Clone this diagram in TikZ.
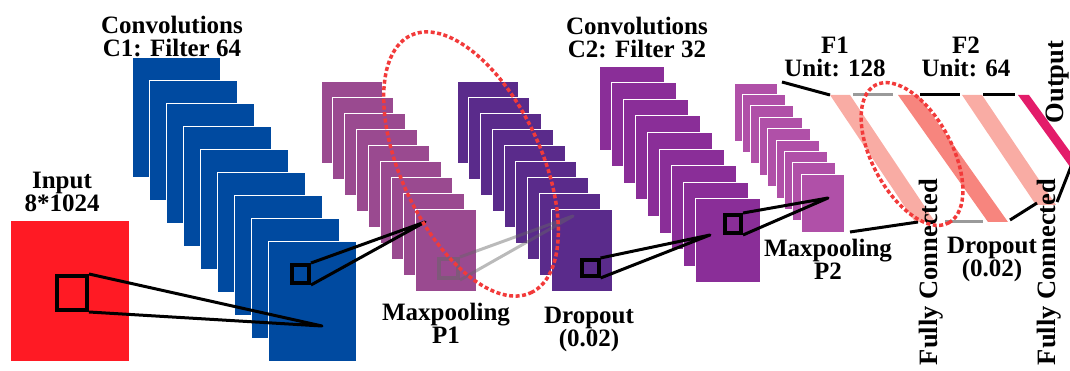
\documentclass[tikz,border=0pt]{standalone}
\usepackage{fontspec}
\setmainfont{Liberation Serif}

\definecolor{inred}{HTML}{FF1A24}
\definecolor{convblue}{HTML}{004AA0}
\definecolor{poolmauve}{HTML}{9A4A90}
\definecolor{dropviolet}{HTML}{5A2B8B}
\definecolor{convpurple}{HTML}{8A2E98}
\definecolor{poolpink}{HTML}{B050A8}
\definecolor{bandlight}{HTML}{F9ACA4}
\definecolor{banddark}{HTML}{F7857E}
\definecolor{outmag}{HTML}{E31C6A}
\definecolor{ringred}{HTML}{F23A3A}
\definecolor{wiregray}{HTML}{9A9A9A}

\newcommand*{\pw}{1070}
\newcommand*{\ph}{371}

\begin{document}
\begin{tikzpicture}
[
	x=1pt,
	y=-1pt,
	fmap/.style={draw=white,line width=0.8pt},
	winbox/.style={draw=black,line width=4pt,inner sep=0pt},
	wire/.style={black,line width=3pt,line join=round},
	lbl/.style={font=\fontsize{25}{23}\selectfont\bfseries,align=center,inner sep=0pt},
	vlbl/.style={font=\fontsize{26.5}{26}\selectfont\bfseries,rotate=90,anchor=base,inner sep=0pt},
	ring/.style={draw=ringred,line width=3.5pt,dash pattern=on 4pt off 2.5pt}
]
	\useasboundingbox (0,0) rectangle (\pw,\ph);

	% input
	\fill[inred] (11,221) rectangle (129,361);

	% feature map stacks
	\foreach \i in {0,...,8} {
		\filldraw[fmap,fill=convblue] (132+17*\i,57+23.1*\i) rectangle ++(88,120);
	}
	\foreach \i in {0,...,8} {
		\filldraw[fmap,fill=poolmauve] (321+11.8*\i,81+16*\i) rectangle ++(61,82);
	}
	\foreach \i in {0,...,8} {
		\filldraw[fmap,fill=dropviolet] (457+11.75*\i,81+16*\i) rectangle ++(61,82);
	}
	\foreach \i in {0,...,8} {
		\filldraw[fmap,fill=convpurple] (599+12*\i,66+16.6*\i) rectangle ++(65,84);
	}
	\foreach \i in {0,...,8} {
		\filldraw[fmap,fill=poolpink] (734+8.4*\i,83+11.4*\i) rectangle ++(43,58);
	}

	% windows and their projections
	\node[winbox,minimum width=30pt,minimum height=34pt] (win0) at (72,293) {};
	\node[winbox,minimum width=17pt,minimum height=18pt] (win1) at (300.5,274) {};
	\node[winbox,draw=black!60,opacity=0.5,minimum width=19pt,minimum height=19pt] (win2) at (448.5,268.5) {};
	\node[winbox,minimum width=17pt,minimum height=16pt] (win3) at (590,268) {};
	\node[winbox,minimum width=16pt,minimum height=18pt] (win4) at (733,224) {};

	\coordinate (tip0) at (322,326);
	\coordinate (tip1) at (425,222);
	\coordinate (tip2) at (573,216);
	\coordinate (tip3) at (710,235);
	\coordinate (tip4) at (828,198);

	\draw[wire] (win0.north east) -- (tip0) -- (win0.south east);
	\draw[wire] (win1.north east) -- (tip1) -- (win1.south east);
	\draw[wire,black!60,opacity=0.45] (win2.north east) -- (tip2) -- (win2.south east);
	\draw[wire] (win3.north east) -- (tip3) -- (win3.south east);
	\draw[wire] (win4.north east) -- (tip4) -- (win4.south east);

	% fully connected bands
	\fill[bandlight] (830,95) -- (850,95) -- (935,222) -- (915,222) -- cycle;
	\fill[banddark] (898,95) -- (918,95) -- (1008,222) -- (988,222) -- cycle;
	\fill[bandlight] (962,95) -- (982,95) -- (1056,205) -- (1036,205) -- cycle;
	\fill[outmag] (1018,95) -- (1029,95) -- (1087,175) -- (1076,175) -- cycle;

	% links between layers
	\coordinate (p2top) at (782,82);
	\coordinate (f1top) at (830,95);
	\coordinate (p2bot) at (850,232);
	\coordinate (f1bot) at (918,222);
	\coordinate (g1a) at (853,95);
	\coordinate (g1b) at (893,95);
	\coordinate (g2a) at (945,222);
	\coordinate (g2b) at (983,222);
	\coordinate (k1a) at (920,95);
	\coordinate (k1b) at (960,95);
	\coordinate (k2a) at (983,95);
	\coordinate (k2b) at (1015,95);
	\coordinate (k3a) at (1010,220);
	\coordinate (k3b) at (1037,203);
	\coordinate (k4a) at (1057,202);
	\coordinate (k4b) at (1072,164);

	\draw[wire] (p2top) -- (f1top);
	\draw[wire] (p2bot) -- (f1bot);
	\draw[wire,wiregray] (g1a) -- (g1b);
	\draw[wire,wiregray] (g2a) -- (g2b);
	\draw[wire] (k1a) -- (k1b);
	\draw[wire] (k2a) -- (k2b);
	\draw[wire] (k3a) -- (k3b);
	\draw[wire] (k4a) -- (k4b);

	% labels
	\node[lbl] (lblinput) at (62,192) {Input\\8*1024};
	\node[lbl] (lblconv1) at (172,37) {Convolutions\\C1: Filter 64};
	\node[lbl] (lblpool1) at (446,323) {Maxpooling\\P1};
	\node[lbl] (lbldrop1) at (589,329) {Dropout\\(0.02)};
	\node[lbl] (lblconv2) at (637,38) {Convolutions\\C2: Filter 32};
	\node[lbl] (lblpool2) at (828,259) {Maxpooling\\P2};
	\node[lbl] (lblfc1) at (835,57) {F1\\Unit: 128};
	\node[lbl] (lblfc2) at (966,57) {F2\\Unit: 64};
	\node[lbl] (lbldrop2) at (992,259) {Dropout\\(0.02)};
	\node[vlbl] (lblfull1) at (937,272) {Fully Connected};
	\node[vlbl] (lblfull2) at (1055,272) {Fully Connected};
	\node[vlbl] (lblout) at (1063,82) {Output};

	% highlight rings
	\draw[ring,rotate around={-65:(471,164)}] (471,164) ellipse [x radius=142pt,y radius=70pt];
	\draw[ring,rotate around={-62:(912,154)}] (912,154) ellipse [x radius=78pt,y radius=40pt];

\end{tikzpicture}
\end{document}
